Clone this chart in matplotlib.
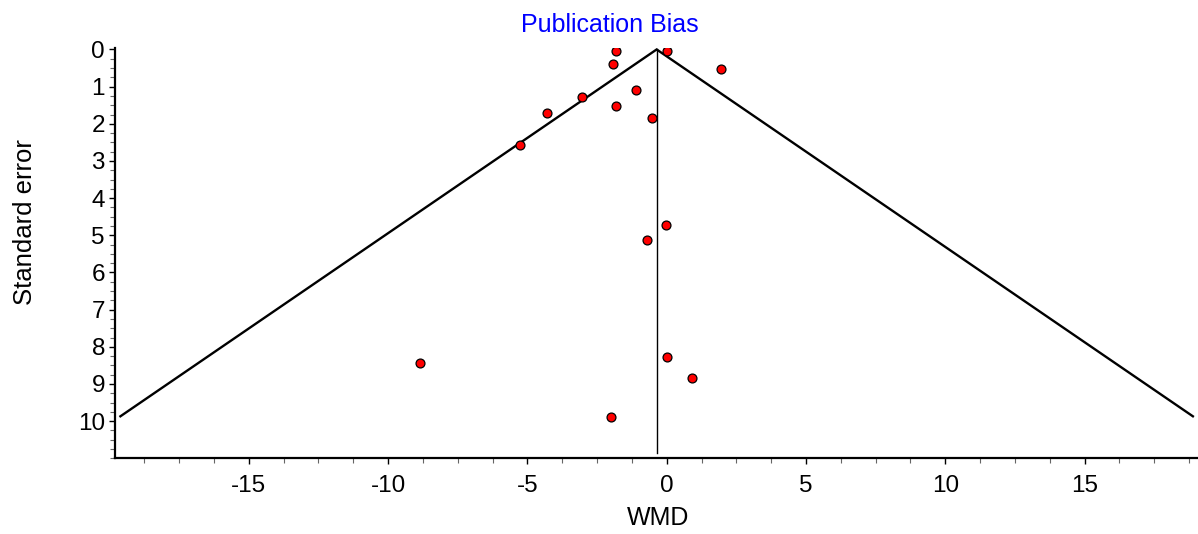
import matplotlib
matplotlib.use("Agg")
import matplotlib.pyplot as plt
import numpy as np
from matplotlib.ticker import MultipleLocator

plt.rcParams['font.family'] = ['Liberation Sans', 'DejaVu Sans']

# Study data
wmd = [-1.82, 0.00, -1.92, 1.94, -1.10, -3.03, -1.82, -4.30, -0.51, -5.27,
       -0.04, -0.72, -8.84, 0.00, 0.90, -2.00]
se = [0.03, 0.03, 0.39, 0.52, 1.10, 1.29, 1.52, 1.72, 1.85, 2.56,
      4.73, 5.14, 8.44, 8.27, 8.83, 9.89]

pooled = -0.36
z = 1.95
funnel_se_max = 9.87
x_halfwidth = 19.43
vline_bottom = 10.85

title = "Publication Bias"
xlabel = "WMD"
ylabel = "Standard error"
xticks = [-15, -10, -5, 0, 5, 10, 15]
yticks = list(range(0, 11))

fig = plt.figure(figsize=(11.98, 5.34), dpi=100)
ax = fig.add_axes([115.3 / 1198, 1 - 458.3 / 534, 1 - 115.3 / 1198, (458.3 - 47.6) / 534])

# funnel
se_line = np.array([funnel_se_max, 0.0, funnel_se_max])
x_line = np.array([pooled - z * funnel_se_max, pooled, pooled + z * funnel_se_max])
ax.plot(x_line, se_line, color='black', lw=1.7, solid_joinstyle='miter', zorder=2)
ax.plot([pooled, pooled], [0, vline_bottom], color='black', lw=1.0, zorder=2)

ax.plot(wmd, se, linestyle='none', marker='o', markersize=6.4,
        markerfacecolor='#ff0000', markeredgecolor='black', markeredgewidth=0.9, zorder=3)

ax.set_xlim(pooled - x_halfwidth, pooled + x_halfwidth)
ax.set_ylim(11, -0.05)

ax.set_xticks(xticks)
ax.set_xticklabels([str(t) for t in xticks])
ax.set_yticks(yticks)
ax.set_yticklabels([str(t) for t in yticks])
ax.xaxis.set_minor_locator(MultipleLocator(1.25))
ax.yaxis.set_minor_locator(MultipleLocator(0.25))

for s in ['top', 'right']:
    ax.spines[s].set_visible(False)
for s in ['left', 'bottom']:
    ax.spines[s].set_linewidth(1.6)

ax.tick_params(axis='both', which='major', labelsize=17.5, length=4, width=1.0, color='black')
ax.tick_params(axis='both', which='minor', length=3.5, width=0.8, color='#666666')
ax.tick_params(axis='x', which='major', pad=8)
ax.tick_params(axis='y', which='major', pad=3.5)

fig.text(610 / 1198, 1 - 31.7 / 534, title, color='#0000ff', fontsize=18,
         ha='center', va='baseline')
fig.text(657.7 / 1198, 1 - 525 / 534, xlabel, color='black', fontsize=18,
         ha='center', va='baseline')
fig.text(25 / 1198, 1 - 222 / 534, ylabel, color='black', fontsize=18.5,
         ha='center', va='center', rotation=90)

fig.savefig('out.png', dpi=100)
